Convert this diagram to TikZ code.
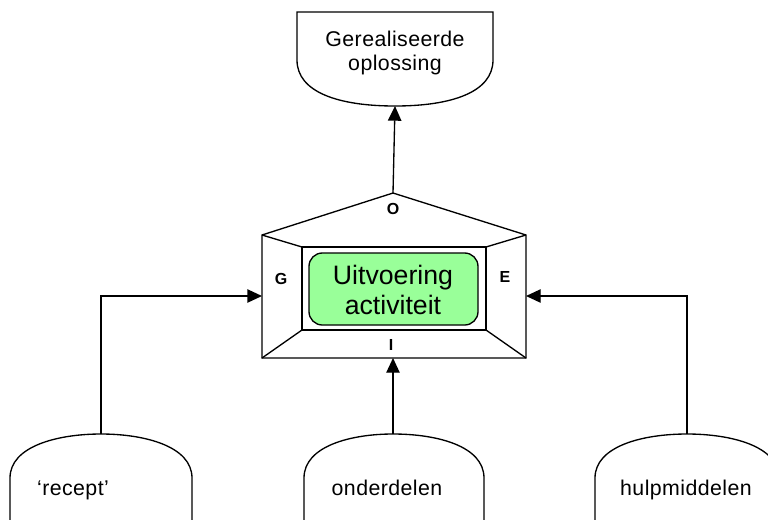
\documentclass[tikz,border=0pt]{standalone}
\usepackage{fontspec}
\setmainfont{Liberation Sans}
\usetikzlibrary{arrows.meta}
\definecolor{lichtgroen}{RGB}{153,255,153}
\begin{document}
\begin{tikzpicture}[x=0.75pt,y=-0.75pt,
  lijn/.style={line width=1pt},
  pijl/.style={line width=1pt,-{Triangle[length=11pt,width=10pt]}},
  tekst/.style={font=\addfontfeatures{LetterSpace=2}\fontsize{16}{18}\selectfont,align=center},
  letter/.style={font=\bfseries\fontsize{12}{14}\selectfont}]
\clip (0,0) rectangle (768,519);
% huis
\coordinate (nok) at (393,193);
\coordinate (lb) at (262,235);
\coordinate (rb) at (526,235);
\coordinate (lo) at (262,358);
\coordinate (ro) at (526,358);
\coordinate (ilb) at (302,247);
\coordinate (irb) at (486,247);
\coordinate (ilo) at (302,330);
\coordinate (iro) at (486,330);
\draw [lijn] (nok) -- (rb) -- (ro) -- (lo) -- (lb) -- cycle;
\draw [lijn] (ilb) rectangle (iro);
\draw [lijn] (lb) -- (ilb);
\draw [lijn] (rb) -- (irb);
\draw [lijn] (lo) -- (ilo);
\draw [lijn] (ro) -- (iro);
\draw [lijn, fill=lichtgroen, rounded corners=10pt] (309,253) rectangle (478,325);
\node (act) [align=center, font=\fontsize{20}{22}\selectfont] at (393,290) {Uitvoering\\activiteit};
\node (O) [letter] at (393,209) {O};
\node (G) [letter] at (281,279) {G};
\node (E) [letter] at (505,277) {E};
\node (I) [letter] at (391,345) {I};
\coordinate (huisW) at (262,296);
\coordinate (huisO) at (526,296);
\coordinate (huisZ) at (393,358);
% doel
\draw [lijn] (297,60) -- (297,12) -- (493,12) -- (493,60)
  .. controls (493,92) and (452,106) .. (395,106)
  .. controls (338,106) and (297,92) .. (297,60);
\node (doel) [tekst] at (395,53) {Gerealiseerde\\oplossing};
\coordinate (doelonder) at (395,106);
% middelen
\draw [lijn] (10,525) -- (10,478) .. controls (10,446) and (58,434) .. (101,434)
  .. controls (144,434) and (192,446) .. (192,478) -- (192,525);
\draw [lijn] (304,525) -- (304,478) .. controls (304,446) and (351,434) .. (393,434)
  .. controls (437,434) and (484,446) .. (484,478) -- (484,525);
\draw [lijn] (595,525) -- (595,478) .. controls (595,446) and (643,434) .. (687,434)
  .. controls (731,434) and (779,446) .. (779,478) -- (779,525);
\node (recept) [tekst, anchor=base] at (73,495) {‘recept’};
\node (onderdelen) [tekst, anchor=base] at (387,495) {onderdelen};
\node (hulp) [tekst, anchor=base] at (686,495) {hulpmiddelen};
\coordinate (receptboven) at (101,434);
\coordinate (onderdelenboven) at (393,434);
\coordinate (hulpboven) at (687,434);
% verbindingen
\draw [pijl] (nok) -- (doelonder);
\draw [pijl] (receptboven) |- (huisW);
\draw [pijl] (hulpboven) |- (huisO);
\draw [pijl] (onderdelenboven) -- (huisZ);
\end{tikzpicture}
\end{document}
